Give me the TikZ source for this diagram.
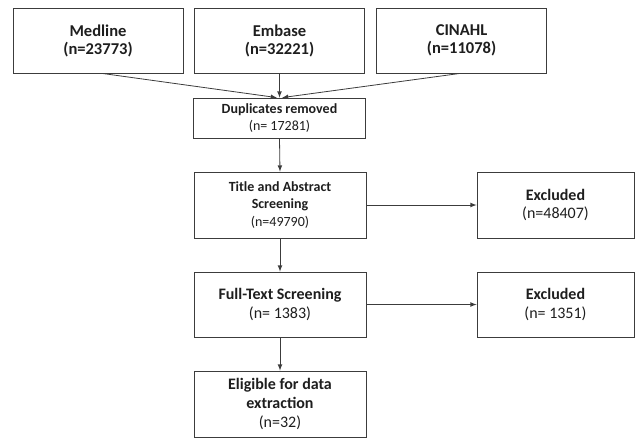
\documentclass[tikz,border=0pt]{standalone}
\usepackage{fontspec}
\setmainfont{Carlito}
\usepackage{tikz}
\usetikzlibrary{shapes,arrows}

\tikzset{
    box/.style={draw={rgb,255:red,60;green,60;blue,60}, line width=0.6pt, align=center, inner sep=0pt, text={rgb,255:red,30;green,30;blue,30}},
    topbox/.style={box, minimum width=127.5pt, minimum height=48.75pt, font=\fontsize{12.4}{13.5}\selectfont\bfseries},
    smallbox/.style={box, minimum width=129pt, font=\fontsize{10.5}{12.8}\selectfont},
    bigbox/.style={box, minimum width=129pt, minimum height=49.5pt, font=\fontsize{12}{14}\selectfont},
    exbox/.style={bigbox, minimum width=117.75pt},
    link/.style={draw={rgb,255:red,60;green,60;blue,60}, line width=0.6pt, -latex}
}

\begin{document}
\begin{tikzpicture}[x=0.75pt,y=0.75pt,yscale=-1,xscale=1]
    \useasboundingbox (0,0) rectangle (637,439);
    
    %Shape: Rectangle [databases]
    \node [topbox] (medline) at (98,40.5) {Medline\\(n=23773)};
    \node [topbox] (embase) at (279.5,40.5) {Embase\\(n=32221)};
    \node [topbox] (cinahl) at (461.5,40.5) {CINAHL\\(n=11078)};
    
    %Shape: Rectangle [duplicates]
    \node [smallbox, minimum height=30pt] (dup) at (279.5,118) {\textbf{Duplicates removed}\\(n= 17281)};
    
    %Shape: Rectangle [screening]
    \node [smallbox, minimum height=49.5pt] (title) at (280,205) {\textbf{Title and Abstract}\\\textbf{Screening}\\(n=49790)};
    \node [exbox] (exclA) at (555.5,205) {\textbf{Excluded}\\(n=48407)};
    
    \node [bigbox, minimum height=48.75pt] (full) at (280,304.5) {\textbf{Full-Text Screening}\\(n= 1383)};
    \node [exbox, minimum height=48.75pt] (exclB) at (555.5,304.5) {\textbf{Excluded}\\(n= 1351)};
    
    \node [bigbox] (elig) at (280,404) {\textbf{Eligible for data}\\\textbf{extraction}\\(n=32)};
    
    %Straight Lines
    \draw [link] ([xshift=3pt]medline.south) -- ([xshift=-2pt]dup.north);
    \draw [link] (embase.south) -- (dup.north);
    \draw [link] ([xshift=-1pt]cinahl.south) -- ([xshift=2pt]dup.north);
    \draw [link] (dup.south) -- (title.north);
    \draw [link] (title) -- (exclA);
    \draw [link] (title.south) -- (full.north);
    \draw [link] (full) -- (exclB);
    \draw [link] (full.south) -- (elig.north);
    
\end{tikzpicture}
\end{document}
